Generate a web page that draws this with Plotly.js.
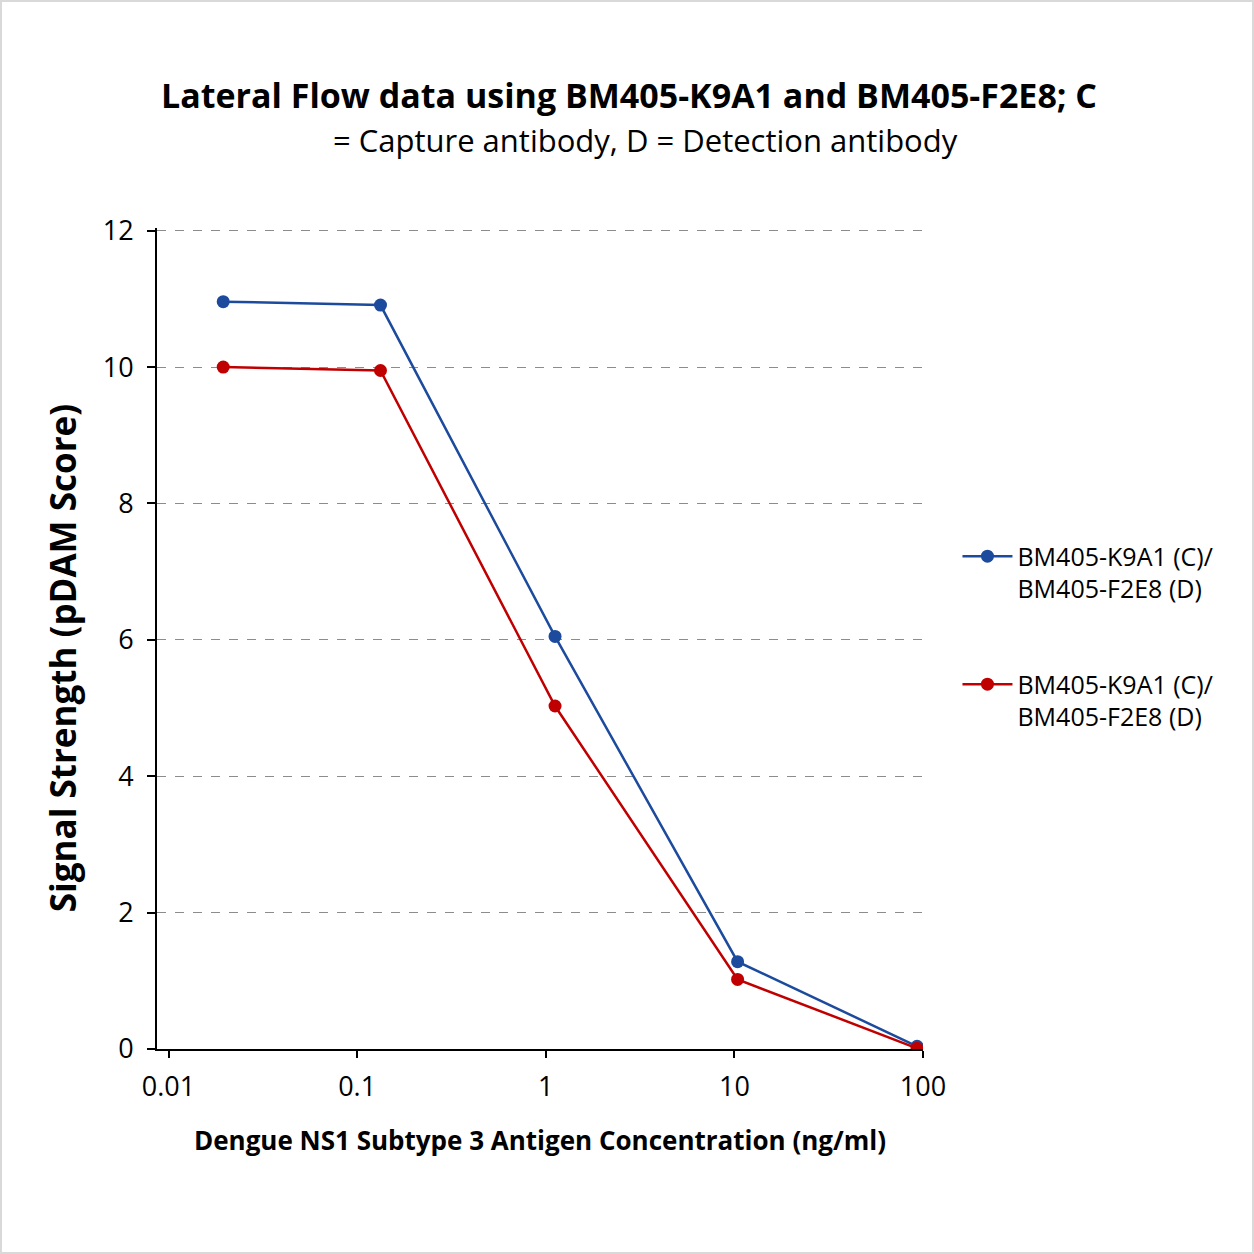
<!DOCTYPE html>
<html>
<head>
<meta charset="utf-8">
<script src="https://cdn.plot.ly/plotly-3.0.1.min.js"></script>
<style>
  html, body { margin: 0; padding: 0; background: #fff; }
  #chart { width: 1250px; height: 1250px; border: 2px solid #d9d9d9; }
</style>
</head>
<body>
<div id="chart"></div>
<script>
// 항원 농도 (ng/ml)
const conc = [0.0195, 0.133, 1.12, 10.4, 93];
const blueVals = [10.96, 10.91, 6.05, 1.28, 0.04];
const redVals = [10.0, 9.95, 5.03, 1.02, 0.01];
const xTicks = [0.01, 0.1, 1, 10, 100];
const xTickText = ['0.01', '0.1', '1', '10', '100'];
const yTicks = [0, 2, 4, 6, 8, 10, 12];
const seriesName = 'BM405-K9A1 (C)/<br>BM405-F2E8 (D)';

const FONT = 'Open Sans, Noto Sans, sans-serif';

const traces = [
  {
    x: conc, y: blueVals,
    type: 'scatter', mode: 'lines+markers',
    name: seriesName, legendgroup: 'a',
    line: { color: '#1c4b9e', width: 2.5 },
    marker: { color: '#1c4b9e', size: 13 },
  },
  {
    x: conc, y: redVals,
    type: 'scatter', mode: 'lines+markers',
    name: seriesName, legendgroup: 'b',
    line: { color: '#c00000', width: 2.5 },
    marker: { color: '#c00000', size: 13 },
  },
];

const layout = {
  width: 1250, height: 1250,
  paper_bgcolor: '#fff', plot_bgcolor: '#fff',
  font: { family: FONT, color: '#000', size: 27 },
  margin: { l: 155, r: 329, t: 226, b: 203 },
  title: {
    text: '<b>Lateral Flow data using BM405-K9A1 and BM405-F2E8; C</b><br><span style="font-size:31px">&nbsp;&nbsp;&nbsp;&nbsp;= Capture antibody, D = Detection antibody</span>',
    font: { family: FONT, size: 34, color: '#000' },
    x: 0.5016, xref: 'container', xanchor: 'center',
    y: 0.915, yref: 'container', yanchor: 'top',
  },
  xaxis: {
    type: 'log',
    range: [Math.log10(0.01) - 0.061, 2],
    tickvals: xTicks, ticktext: xTickText,
    ticks: 'outside', ticklen: 7, tickwidth: 1.5, tickcolor: '#000',
    showline: true, linecolor: '#000', linewidth: 2,
    showgrid: false, zeroline: false,
    tickfont: { size: 27 },
    ticklabelstandoff: 6,
    title: { text: '<b>Dengue NS1 Subtype 3 Antigen Concentration (ng/ml)</b>', font: { size: 26 }, standoff: 28 },
  },
  yaxis: {
    range: [0, 12.04],
    tickvals: yTicks,
    ticks: 'outside', ticklen: 8, tickwidth: 1.5, tickcolor: '#000',
    showline: true, linecolor: '#000', linewidth: 2,
    showgrid: true, gridcolor: '#8c8c8c', griddash: 'dash', gridwidth: 1,
    zeroline: false,
    tickfont: { size: 27 },
    ticklabelstandoff: 8,
  },
  annotations: [{
    text: '<b>Signal Strength (pDAM Score)</b>',
    xref: 'paper', yref: 'paper',
    x: -0.124, y: 0.476, xanchor: 'center', yanchor: 'middle',
    textangle: -90, showarrow: false,
    font: { family: FONT, size: 35, color: '#000' },
  }],
  showlegend: true,
  legend: {
    x: 1.045, xanchor: 'left', y: 0.628, yanchor: 'top',
    font: { size: 25 }, valign: 'top',
    itemwidth: 50,
    traceorder: 'grouped', tracegroupgap: 60,
    bgcolor: 'rgba(0,0,0,0)',
  },
};

Plotly.newPlot('chart', traces, layout, { displayModeBar: false, responsive: false });
</script>
</body>
</html>
